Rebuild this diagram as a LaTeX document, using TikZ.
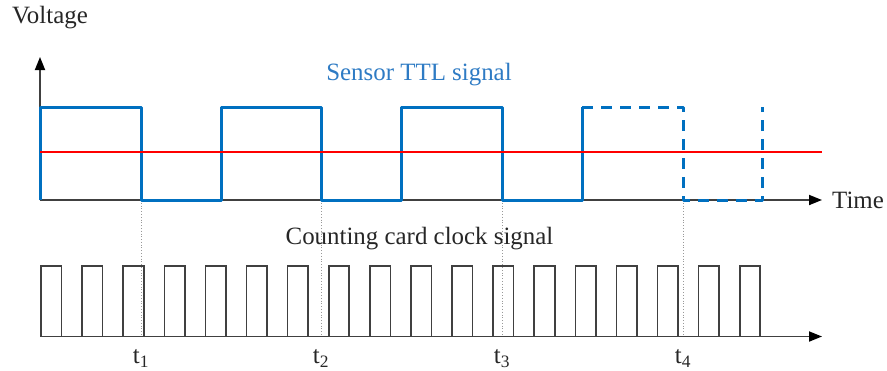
\documentclass[tikz,border=0pt]{standalone}
\usepackage{fontspec}
\setmainfont{Liberation Serif}
\usetikzlibrary{arrows.meta}
\definecolor{sigblue}{RGB}{0,112,192}
\definecolor{txtblue}{RGB}{46,123,196}
\definecolor{axisgray}{RGB}{64,64,64}
\begin{document}
\begin{tikzpicture}[x=1bp,y=-1bp,
  axis/.style={draw=axisgray,line width=1.8bp,-{Triangle[length=13bp,width=10bp,color=black]}},
  sig/.style={draw=sigblue,line width=3bp,line join=round},
  sigdash/.style={sig,dash pattern=on 11bp off 8bp},
  thr/.style={draw=red,line width=1.1bp},
  guide/.style={draw=gray!80,line width=0.8bp,dotted},
  clk/.style={draw=axisgray,line width=1.6bp,line join=miter},
  lbl/.style={font=\fontsize{25}{28}\selectfont,text=black!85,inner sep=0pt},
  blbl/.style={font=\fontsize{25}{28}\selectfont,text=txtblue,inner sep=0pt}
]
\useasboundingbox (0,0) rectangle (887,370);
% axes
\coordinate (O) at (40,200);
\coordinate (Ytip) at (40,57);
\coordinate (Xtip) at (822,200);
\coordinate (B0) at (41,336.5);
\coordinate (Btip) at (822,336.5);
\draw[axis] (O) -- (Ytip);
\draw[axis] (O) -- (Xtip);
\draw[axis] (B0) -- (Btip);
% guide coordinates
\foreach \i/\x in {1/141,2/321,3/502,4/683}{
  \coordinate (f\i) at (\x,200);
  \coordinate (b\i) at (\x,336.5);
}
\foreach \i in {1,...,4}{\draw[guide] (f\i) -- (b\i);}
% sensor signal
\draw[sig] (40,200) -- (40,107) -- (141,107) -- (141,200) -- (221,200) -- (221,107)
  -- (321,107) -- (321,200) -- (401,200) -- (401,107) -- (502,107) -- (502,200)
  -- (582,200) -- (582,107);
\draw[sigdash] (582,107) -- (683,107) -- (683,200) -- (762,200) -- (762,107);
% threshold
\draw[thr] (40,152) -- (822,152);
% clock pulses
\foreach \k in {0,...,17}{
  \pgfmathsetmacro{\xs}{41+41.1*\k}
  \pgfmathsetmacro{\xe}{\xs+20.5}
  \draw[clk] (\xs,336.5) -- (\xs,266) -- (\xe,266) -- (\xe,336.5);
}
% labels
\node[lbl] (volt) at (50,18) {Voltage};
\node[blbl] (sensor) at (419,75) {Sensor TTL signal};
\node[lbl] (time) at (858,200) {Time};
\node[lbl] (clock) at (419.5,239) {Counting card clock signal};
\foreach \i in {1,...,4}{
  \node[lbl,anchor=north] (t\i) at ([yshift=-13bp]b\i) {t\textsubscript{\i}};
}
\end{tikzpicture}
\end{document}
